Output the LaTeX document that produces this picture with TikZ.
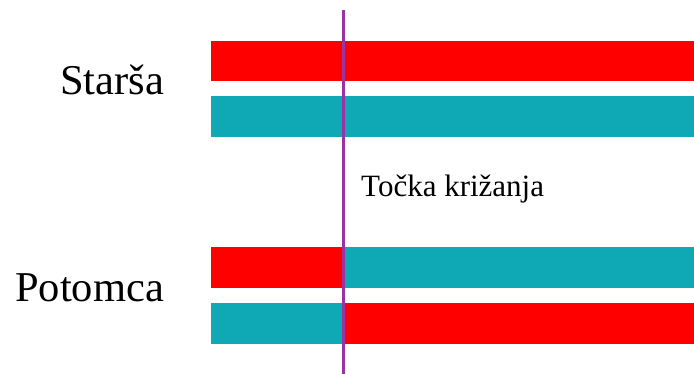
\documentclass[tikz,border=0pt]{standalone}
\usepackage{fontspec}
\setmainfont{Liberation Serif}
\definecolor{barred}{HTML}{FF0000}
\definecolor{barteal}{HTML}{0FA8B5}
\definecolor{cutpurple}{HTML}{9B34A3}
\begin{document}
\begin{tikzpicture}[x=1pt,y=1pt,
		label/.style={anchor=base west,inner sep=0pt,font=\fontsize{42.5}{43}\selectfont},
		cutlabel/.style={anchor=base west,inner sep=0pt,font=\fontsize{31}{31}\selectfont}]
		\useasboundingbox (0,0) rectangle (694,374);
		
		% starsa
		\fill[barred] (211,293) rectangle (694,333);
		\fill[barteal] (211,237) rectangle (694,277.5);
		
		% potomca
		\fill[barred] (211,86) rectangle (343.3,126.5);
		\fill[barteal] (343.3,86) rectangle (694,126.5);
		\fill[barteal] (211,30) rectangle (343.3,71);
		\fill[barred] (343.3,30) rectangle (694,71);
		
		% tocka krizanja
		\coordinate (cuttop) at (343.3,364);
		\coordinate (cutbot) at (343.3,0);
		\draw[cutpurple,line width=3pt] (cuttop) -- (cutbot);
		
		\node[label] (starsa) at (60,279) {Starša};
		\node[label] (potomca) at (15,72) {Potomca};
		\node[cutlabel] (tocka) at (361,177) {Točka križanja};
	\end{tikzpicture}
\end{document}
